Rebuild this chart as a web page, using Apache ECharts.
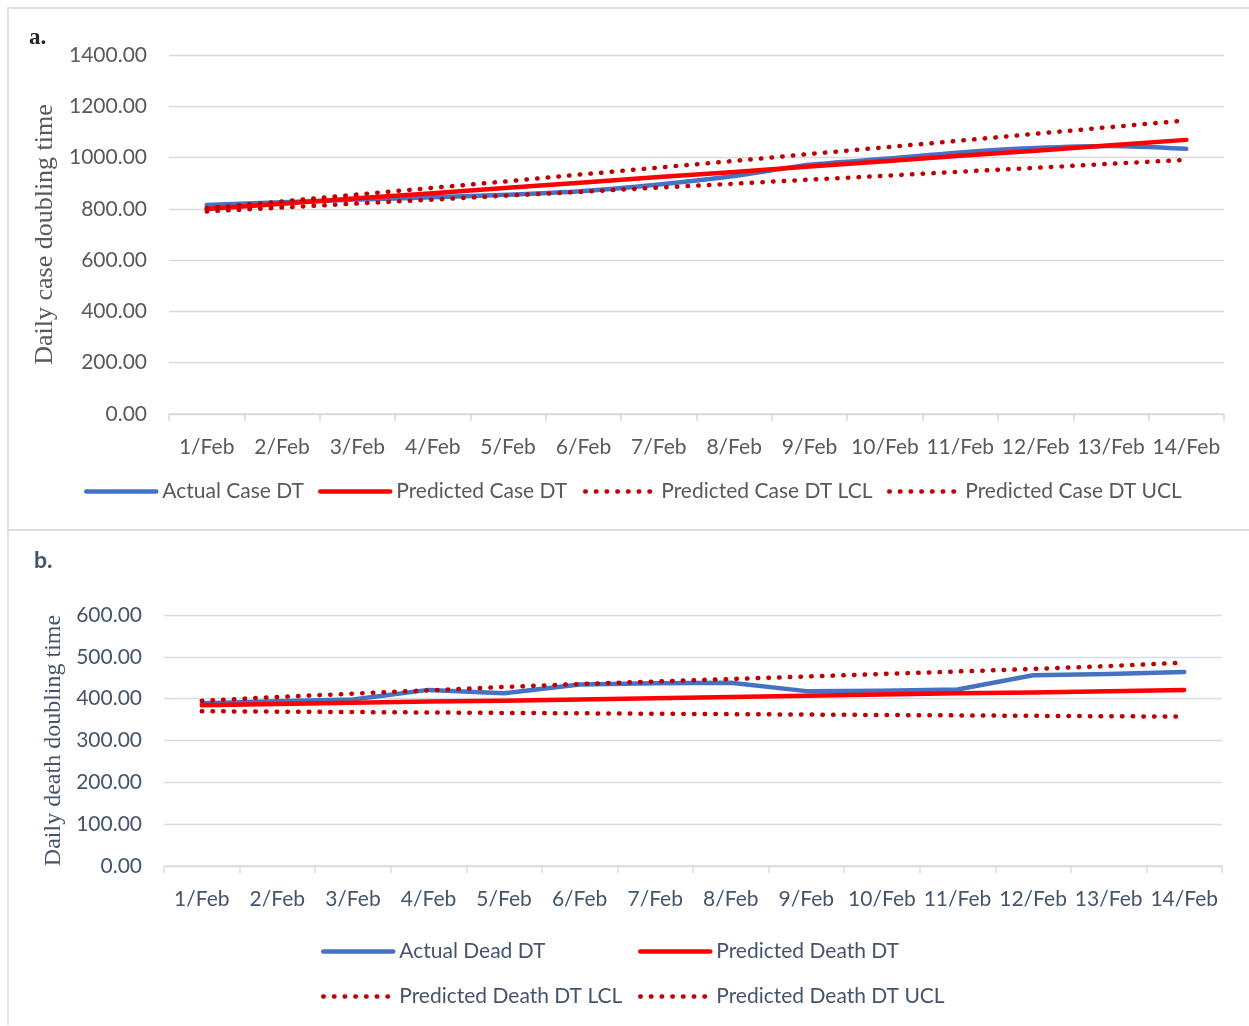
<!DOCTYPE html>
<html>
<head>
<meta charset="utf-8">
<script src="https://cdn.jsdelivr.net/npm/echarts@6/dist/echarts.min.js"></script>
<style>
  html, body { margin: 0; padding: 0; background: #ffffff; }
  #chart { width: 1249px; height: 1026px; }
</style>
</head>
<body>
<div id="chart"></div>
<script>
// Dates on the shared category axis
const categories = ['1/Feb', '2/Feb', '3/Feb', '4/Feb', '5/Feb', '6/Feb', '7/Feb',
                    '8/Feb', '9/Feb', '10/Feb', '11/Feb', '12/Feb', '13/Feb', '14/Feb'];

// Panel a: daily case doubling time
const caseActual    = [815, 826, 836, 845, 855, 870, 895, 928, 972, 995, 1020, 1037, 1045, 1034];
const casePredicted = [799, 820, 841, 861, 882, 903, 924, 944, 965, 986, 1007, 1027, 1048, 1069];
const caseLCL       = [790, 805, 821, 836, 852, 867, 883, 898, 914, 929, 945, 960, 976, 991];
const caseUCL       = [803, 829, 856, 882, 908, 935, 961, 987, 1014, 1040, 1066, 1093, 1119, 1145];

// Panel b: daily death doubling time
const deathActual    = [389, 394, 398, 421, 413, 434, 437, 438, 418, 419, 422, 456, 459, 464];
const deathPredicted = [384, 387, 390, 393, 395, 398, 401, 404, 407, 410, 413, 415, 418, 421];
const deathLCL       = [370, 369, 368, 367, 366, 365, 364, 363, 362, 361, 360, 359, 358, 357];
const deathUCL       = [395, 404, 412, 420, 428, 435, 441, 447, 453, 459, 465, 471, 478, 486];

// Axis ranges
const caseAxis  = { min: 0, max: 1400, interval: 200 };
const deathAxis = { min: 0, max: 600, interval: 100 };

const SANS = 'Lato, "Open Sans", sans-serif';
const SERIF = '"Liberation Serif", "DejaVu Serif", serif';
const GREY = '#595959';
const SLATE = '#44546A';
const BLUE = '#4472C4';
const RED = '#FF0000';
const DARKRED = '#C00000';
const DOTS = [0.5, 10.2];

const chart = echarts.init(document.getElementById('chart'), null, { renderer: 'canvas' });

function solid(color) {
  return { color: color, width: 4.5, cap: 'round', join: 'round' };
}
function dotted() {
  return { color: DARKRED, width: 4.5, type: DOTS, cap: 'round' };
}
function lineSeries(name, data, idx, style, smooth) {
  return {
    name: name, type: 'line', data: data,
    xAxisIndex: idx, yAxisIndex: idx,
    symbol: 'none', smooth: smooth || false,
    lineStyle: style, itemStyle: { color: style.color },
    emphasis: { disabled: true }, animation: false
  };
}
function legendItem(name, style, left, top, color) {
  return {
    data: [name], left: left, top: top, padding: 0,
    itemWidth: 70, itemHeight: 14, itemGap: 0, selectedMode: false,
    itemStyle: { opacity: 0 },
    lineStyle: { width: style.width, type: style.type || 'solid', cap: style.cap, color: style.color },
    textStyle: { fontFamily: SANS, fontSize: 21, color: color, padding: [0, 0, 0, 1] }
  };
}
function xAxisFor(gridIndex, color, lineColor) {
  return {
    type: 'category', gridIndex: gridIndex, data: categories, boundaryGap: true,
    axisLine: { lineStyle: { color: lineColor, width: 1.5 } },
    axisTick: { show: true, alignWithLabel: false, length: 7, lineStyle: { color: lineColor, width: 1.5 } },
    axisLabel: { fontFamily: SANS, fontSize: 21, color: color, margin: 23, interval: 0 },
    splitLine: { show: false }
  };
}
function yAxisFor(gridIndex, range, color, gridColor, name, nameSize, nameGap) {
  return {
    type: 'value', gridIndex: gridIndex,
    min: range.min, max: range.max, interval: range.interval,
    axisLine: { show: false }, axisTick: { show: false },
    axisLabel: { fontFamily: SANS, fontSize: 21, color: color, margin: 22,
                 formatter: v => v.toFixed(2) },
    splitLine: { lineStyle: { color: gridColor, width: 1.3 } },
    name: name, nameLocation: 'middle', nameRotate: 90, nameGap: nameGap,
    nameTextStyle: { fontFamily: SERIF, fontSize: nameSize, color: color }
  };
}

const caseStyles = [solid(BLUE), solid(RED), dotted(), dotted()];
const deathStyles = [solid(BLUE), solid(RED), dotted(), dotted()];

const option = {
  backgroundColor: '#ffffff',
  animation: false,
  grid: [
    { left: 169, right: 25, top: 55, height: 359 },
    { left: 164, right: 27, top: 615, height: 251 }
  ],
  xAxis: [
    xAxisFor(0, GREY, '#D9D9D9'),
    xAxisFor(1, SLATE, '#D6DCE5')
  ],
  yAxis: [
    yAxisFor(0, caseAxis, GREY, '#D9D9D9', 'Daily case doubling time', 26, 110),
    yAxisFor(1, deathAxis, SLATE, '#D6DCE5', 'Daily death doubling time', 24, 95)
  ],
  legend: [
    legendItem('Actual Case DT', caseStyles[0], 84, 481, GREY),
    legendItem('Predicted Case DT', caseStyles[1], 318, 481, GREY),
    legendItem('Predicted Case DT LCL', caseStyles[2], 583, 481, GREY),
    legendItem('Predicted Case DT UCL', caseStyles[3], 887, 481, GREY),
    legendItem('Actual Dead DT', deathStyles[0], 321, 941, SLATE),
    legendItem('Predicted Death DT', deathStyles[1], 638, 941, SLATE),
    legendItem('Predicted Death DT LCL', deathStyles[2], 321, 986, SLATE),
    legendItem('Predicted Death DT UCL', deathStyles[3], 638, 986, SLATE)
  ],
  series: [
    lineSeries('Actual Case DT', caseActual, 0, caseStyles[0], 0.25),
    lineSeries('Predicted Case DT', casePredicted, 0, caseStyles[1]),
    lineSeries('Predicted Case DT LCL', caseLCL, 0, caseStyles[2]),
    lineSeries('Predicted Case DT UCL', caseUCL, 0, caseStyles[3]),
    lineSeries('Actual Dead DT', deathActual, 1, deathStyles[0]),
    lineSeries('Predicted Death DT', deathPredicted, 1, deathStyles[1]),
    lineSeries('Predicted Death DT LCL', deathLCL, 1, deathStyles[2]),
    lineSeries('Predicted Death DT UCL', deathUCL, 1, deathStyles[3])
  ],
  graphic: [
    // panel frames
    { type: 'rect', silent: true, z: -1,
      shape: { x: 8, y: 8, width: 1260, height: 522 },
      style: { fill: null, stroke: '#D9D9D9', lineWidth: 1.5 } },
    { type: 'polyline', silent: true, z: -1,
      shape: { points: [[1260, 530], [8, 530], [8, 1025]] },
      style: { fill: null, stroke: '#D6DCE5', lineWidth: 1.5 } },
    // panel letters
    { type: 'text', left: 29, top: 27,
      style: { text: 'a.', fontFamily: SERIF, fontWeight: 'bold', fontSize: 23, fill: '#262626' } },
    { type: 'text', left: 34, top: 549,
      style: { text: 'b.', fontFamily: SANS, fontWeight: 'bold', fontSize: 23, fill: SLATE } }
  ]
};

chart.setOption(option);
</script>
</body>
</html>
